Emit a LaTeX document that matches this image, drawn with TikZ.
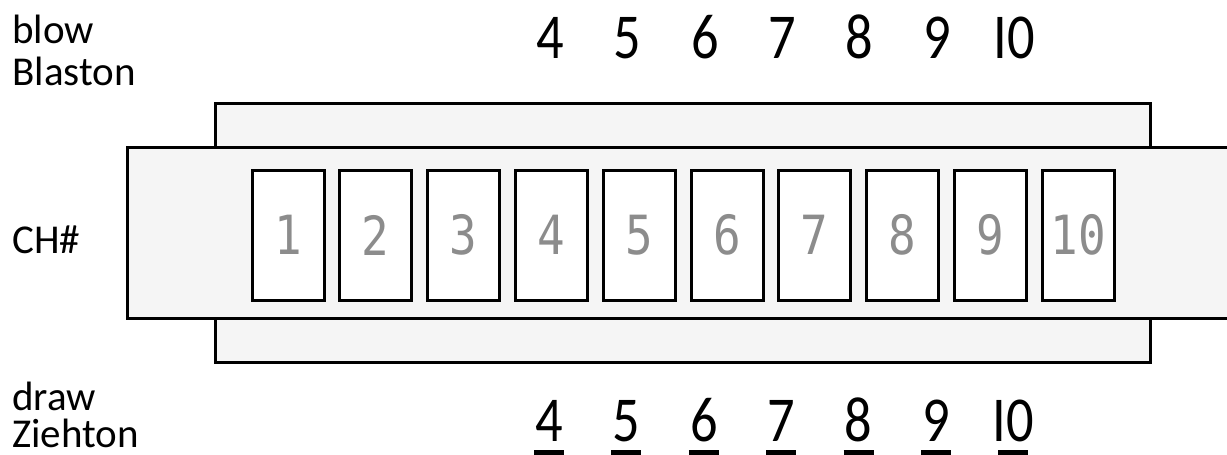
\documentclass[tikz,border=0pt]{standalone}
\usepackage{fontspec}
\setmainfont{Carlito}
\newfontfamily\holefont{DejaVu Sans Mono}
\usepackage{graphicx}
\usetikzlibrary{positioning}

\definecolor{plategray}{HTML}{F5F5F5}
\definecolor{digitgray}{HTML}{8C8C8C}
\newcommand{\narrowdigit}[1]{\scalebox{0.85}[1]{#1}}

\begin{document}
\begin{tikzpicture}[
  x=0.5pt, y=-0.5pt,
  plate/.style={draw=black, fill=plategray, line width=1.5pt},
  hole/.style={draw=black, fill=white, line width=1.5pt, minimum width=36pt,
    minimum height=65pt, inner sep=0pt, font=\holefont\fontsize{27}{30}\selectfont,
    text=digitgray},
  lbl/.style={anchor=base west, inner sep=0pt, font=\fontsize{20.5}{23}\selectfont},
  tone/.style={anchor=base, inner sep=0pt, font=\fontsize{32}{36}\selectfont},
  uline/.style={line width=2.5pt}
]
\useasboundingbox (0,0) rectangle (1227,455);

% plates and body
\draw[plate] (215,103) rectangle (1150,147);
\draw[plate] (215,318) rectangle (1150,362);
\draw[plate] (127,147) rectangle (1240,318);

% channels
\foreach \i in {1,...,10}
  \node[hole] (hole\i) at ({288+87.8*(\i-1)},235) {\narrowdigit{\i}};

% side labels
\node[lbl] (blowlbl) at (12,43) {blow};
\node[lbl] (blowde) at (12,85) {Blaston};
\node[lbl] (chlbl) at (12,253) {CH\#};
\node[lbl] (drawlbl) at (12,410) {draw};
\node[lbl] (drawde) at (12,447) {Ziehton};

% blow and draw tones
\foreach \n [count=\k from 0] in {4,5,6,7,8,9,I0} {
  \node[tone] (blow\k) at ({550+77.4*\k},58) {\narrowdigit{\n}};
  \node[tone] (draw\k) at ({549+77.4*\k},441) {\narrowdigit{\n}};
  \draw[uline] ([xshift=-7.5pt,yshift=-5.5pt]draw\k.base) -- ([xshift=7.5pt,yshift=-5.5pt]draw\k.base);
}

\end{tikzpicture}
\end{document}
